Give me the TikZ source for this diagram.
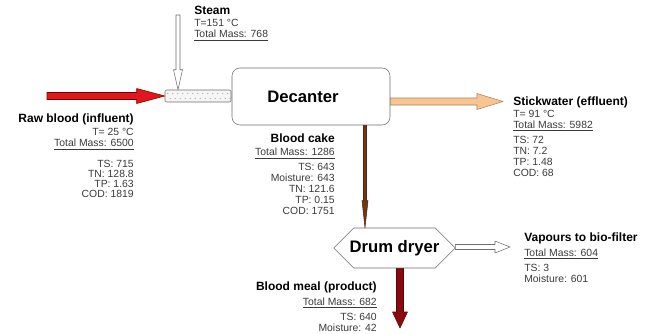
\documentclass[tikz,border=0pt]{standalone}
\usepackage{fontspec}
\setmainfont{Liberation Sans}
\usetikzlibrary{calc,positioning,shapes.misc}
\definecolor{txtgray}{HTML}{3A3A3A}
\definecolor{linegray}{HTML}{6E6E6E}
\definecolor{rawred}{HTML}{E2161B}
\definecolor{sticktan}{HTML}{F8C592}
\definecolor{cakebrown}{HTML}{6E3718}
\definecolor{mealred}{HTML}{8A0B0E}
% filled block arrow between two named points: style, from, to, half shaft, half head, head length (px)
\newcommand{\fatarrow}[6]{%
  \draw[#1] let \p1=($(#3)-(#2)$), \n1={veclen(\x1,\y1)}, \n2={atan2(\y1,\x1)} in
    [shift={(#2)},rotate=\n2] (0pt,{-0.75pt*#4}) -- ({\n1*1pt-0.75pt*#6},{-0.75pt*#4})
    -- ({\n1*1pt-0.75pt*#6},{-0.75pt*#5}) -- ({\n1*1pt},0pt)
    -- ({\n1*1pt-0.75pt*#6},{0.75pt*#5}) -- ({\n1*1pt-0.75pt*#6},{0.75pt*#4}) -- (0pt,{0.75pt*#4}) -- cycle;}
\newcommand{\hd}[1]{{\fontsize{9}{11}\selectfont\bfseries\color{black}#1}}

\begin{document}
\begin{tikzpicture}[x=0.75pt,y=-0.75pt,line join=round,
  info/.style={font=\fontsize{7.8}{8.2}\selectfont,text=txtgray,inner sep=0pt},
  unit/.style={draw=linegray,fill=white,font=\fontsize{12.5}{14}\selectfont\bfseries,inner sep=0pt}]
\useasboundingbox (0,0) rectangle (646,333);
% units
\node[unit,rounded corners=6pt,minimum width=118.5pt,minimum height=42.75pt] (dec) at (311,96.5) {\hspace*{-12pt}Decanter};
\node[draw=linegray,fill=gray!8,minimum width=49.5pt,minimum height=9pt,inner sep=0pt,rounded corners=1pt] (pipe) at (198,96) {};
\foreach \i in {0,...,12} {
  \fill[gray!70] ($(pipe.west)+(3+5*\i,-2.5)$) circle (0.45pt);
  \fill[gray!70] ($(pipe.west)+(5.5+5*\i,2.5)$) circle (0.45pt);
}
\node[unit,chamfered rectangle,chamfered rectangle xsep=8.25pt,chamfered rectangle ysep=9pt,minimum width=90.75pt,minimum height=30pt] (dryer) at (394.5,248) {Drum dryer};
% streams
\coordinate (rawin) at (47,96);
\fatarrow{draw=red!45!black,fill=rawred}{rawin}{pipe.west}{3.5}{7.5}{28}
\coordinate (steamin) at (178,15);
\coordinate (steamend) at (steamin |- pipe.north);
\fatarrow{draw=linegray,fill=white}{steamin}{steamend}{2}{4.5}{20}
\coordinate (stickout) at (503,101.5);
\coordinate (stickstart) at (dec.east |- stickout);
\fatarrow{draw=brown!60!gray,fill=sticktan}{stickstart}{stickout}{3.5}{8}{26}
\coordinate (cakestart) at ([xshift=40.5pt]dec.south);
\coordinate (cakeend) at (cakestart |- dryer.north);
\fatarrow{draw=cakebrown!70!black,fill=cakebrown}{cakestart}{cakeend}{1.5}{3}{27}
\coordinate (vapout) at (510,247);
\coordinate (vapstart) at (dryer.east |- vapout);
\fatarrow{draw=linegray,fill=white}{vapstart}{vapout}{2.5}{6}{15}
\coordinate (mealout) at (400,328);
\coordinate (mealstart) at (mealout |- dryer.south);
\fatarrow{draw=mealred!60!black,fill=mealred}{mealstart}{mealout}{3.5}{7.5}{16}
% stream data
\node[info,align=left,anchor=north west] (steamtxt) at (194,6) {\hd{Steam}\\[1pt] T=151 °C\\ \underline{Total Mass: 768}};
\node[info,align=right,anchor=north east] (rawtxt) at (134,114) {\hd{Raw blood (influent)}\\[1.5pt] T= 25 °C\\ \underline{Total Mass: 6500}\\[7pt] TS: 715\\[-0.5pt] TN: 128.8\\[-0.5pt] TP: 1.63\\[-0.5pt] COD: 1819};
\node[info,align=right,anchor=north east] (caketxt) at (335,134) {\hd{Blood cake}\\[1.5pt] \underline{Total Mass: 1286}\\[3pt] TS: 643\\ Moisture: 643\\ TN: 121.6\\ TP: 0.15\\ COD: 1751};
\node[info,align=left,anchor=north west] (sticktxt) at (513,96.5) {\hd{Stickwater (effluent)}\\[1pt] T= 91 °C\\ \underline{Total Mass: 5982}\\[3pt] TS: 72\\ TN: 7.2\\ TP: 1.48\\ COD: 68};
\node[info,align=left,anchor=north west] (vaptxt) at (524,233) {\hd{Vapours to bio-filter}\\[2.5pt] \underline{Total Mass: 604}\\[3pt] TS: 3\\ Moisture: 601};
\node[info,align=right,anchor=north east] (mealtxt) at (377,282) {\hd{Blood meal (product)}\\[2.5pt] \underline{Total Mass: 682}\\[3pt] TS: 640\\ Moisture: 42};
\end{tikzpicture}
\end{document}
